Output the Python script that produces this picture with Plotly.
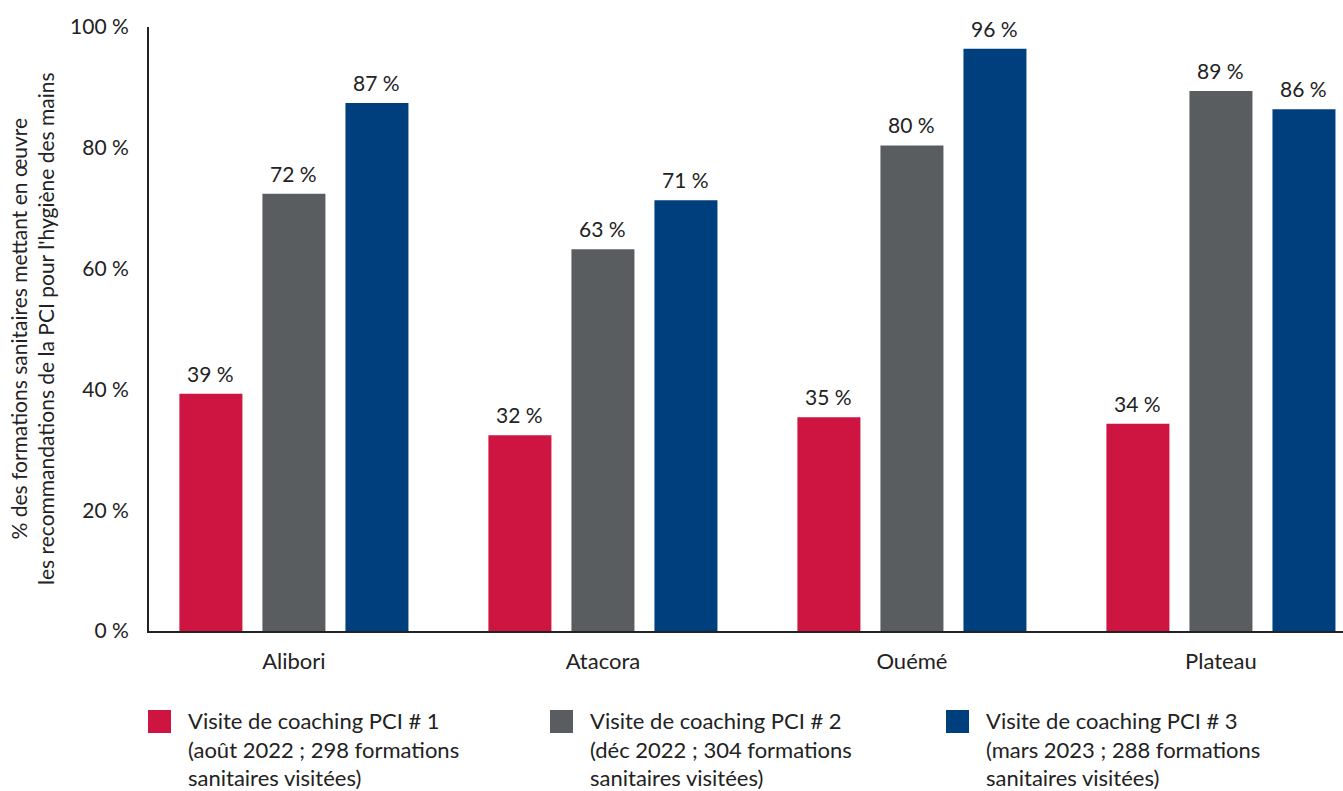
import plotly.graph_objects as go

# ---- data ----
categories = ["Alibori", "Atacora", "Ouémé", "Plateau"]
series_names = [
    "Visite de coaching PCI # 1<br>(août 2022 ; 298 formations<br>sanitaires visitées)",
    "Visite de coaching PCI # 2<br>(déc 2022 ; 304 formations<br>sanitaires visitées)",
    "Visite de coaching PCI # 3<br>(mars 2023 ; 288 formations<br>sanitaires visitées)",
]
pci1 = [39.3, 32.4, 35.4, 34.3]
pci2 = [72.4, 63.2, 80.4, 89.4]
pci3 = [87.4, 71.3, 96.4, 86.4]
y_tickvals = [0, 20, 40, 60, 80, 100]
y_ticktext = ["0 %", "20 %", "40 %", "60 %", "80 %", "100 %"]
y_title = ("% des formations sanitaires mettant en œuvre<br>"
           "les recommandations de la PCI pour l'hygiène des mains")

colors = ["#CE1440", "#5A5D5F", "#003F7D"]
FONT = "Lato, 'Open Sans', sans-serif"
TXT = "#222222"

W, H = 1343, 791
ML, MR, MT, MB = 149, 0, 27, 160
PW = W - ML - MR
PH = H - MT - MB
SLOT_PX = 83  # horizontal distance between bars of one group

fig = go.Figure()
annotations = []
all_series = [pci1, pci2, pci3]
for i, (vals, col) in enumerate(zip(all_series, colors)):
    fig.add_trace(go.Bar(
        x=categories, y=vals,
        marker=dict(color=col, line=dict(width=0)),
        showlegend=False,
    ))
    for cat, v in zip(categories, vals):
        annotations.append(dict(
            x=cat, y=v, xref="x", yref="y",
            xshift=(i - 1) * SLOT_PX, yshift=6,
            xanchor="center", yanchor="bottom",
            text=f"{round(v)} %", showarrow=False,
            font=dict(size=21, color=TXT, family=FONT)))

# manual legend (large square swatches)
def px_x(p):
    return (p - ML) / PW

def px_y(p):
    return (H - MB - p) / PH

legend_x = [148, 550, 946]
shapes = []
for name, col, lx in zip(series_names, colors, legend_x):
    shapes.append(dict(type="rect", xref="paper", yref="paper",
                       x0=px_x(lx), x1=px_x(lx + 23),
                       y0=px_y(710), y1=px_y(733),
                       fillcolor=col, line=dict(width=0)))
    annotations.append(dict(xref="paper", yref="paper",
                            x=px_x(lx + 38), y=px_y(705),
                            xanchor="left", yanchor="top", align="left",
                            text=name, showarrow=False,
                            font=dict(size=22, color=TXT, family=FONT)))

annotations.append(dict(xref="paper", yref="paper",
                        x=px_x(32), y=0.5, xanchor="center", yanchor="middle",
                        text=y_title, textangle=-90, showarrow=False,
                        font=dict(size=21, color=TXT, family=FONT)))

fig.update_layout(
    width=W, height=H,
    margin=dict(l=ML, r=MR, t=MT, b=MB, autoexpand=False),
    paper_bgcolor="white", plot_bgcolor="white",
    font=dict(family=FONT, color=TXT, size=20),
    barmode="group", bargap=0.194, bargroupgap=0.241,
    shapes=shapes, annotations=annotations,
    xaxis=dict(range=[-0.469, 3.395], showline=True, linecolor="#222222",
               linewidth=2, ticks="", showgrid=False, zeroline=False,
               tickfont=dict(size=22, color=TXT), ticklabelstandoff=10),
    yaxis=dict(range=[0, 100], tickvals=y_tickvals, ticktext=y_ticktext,
               showline=True, linecolor="#222222", linewidth=2, ticks="",
               showgrid=False, zeroline=False,
               tickfont=dict(size=21, color=TXT), ticklabelstandoff=14),
)

fig.write_html("out.html")
